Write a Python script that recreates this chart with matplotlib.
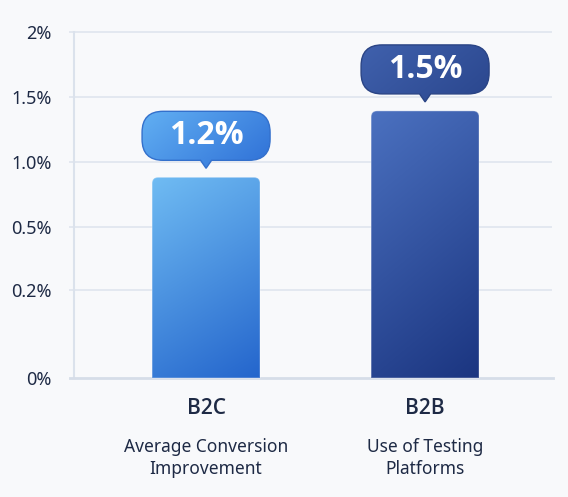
import numpy as np
import matplotlib
matplotlib.use("Agg")
import matplotlib.pyplot as plt
from matplotlib.path import Path
from matplotlib.patches import PathPatch
from matplotlib.colors import to_rgb

# ---------------- data ----------------
categories = ["B2C", "B2B"]
descriptions = ["Average Conversion\nImprovement", "Use of Testing\nPlatforms"]
bar_heights = [0.88, 1.39]          # bar tops as read on the (uneven) axis
value_labels = ["1.2%", "1.5%"]
tick_values = [0, 0.2, 0.5, 1.0, 1.5, 2.0]
tick_labels = ["0%", "0.2%", "0.5%", "1.0%", "1.5%", "2%"]
tick_spacing = [0, 1.354, 2.323, 3.323, 4.323, 5.315]   # uneven tick spacing of the axis

# ---------------- style ----------------
plt.rcParams['font.family'] = ['Noto Sans', 'DejaVu Sans']
BOLD_FAMILY = ['Open Sans', 'Noto Sans', 'DejaVu Sans']
BG = "#f8f9fb"
TEXT = "#1e2a45"
GRID = "#e3e8f0"
bar_colors = [("#70bcf3", "#2465cc"), ("#4b71c0", "#1b3580")]
bubble_colors = [("#62b0f3", "#2e6fd6"), ("#4061ad", "#2a468d")]
bubble_edges = ["#3370cc", "#2a4485"]

W, H = 568, 497
fig = plt.figure(figsize=(W / 100, H / 100), dpi=100, facecolor=BG)
ax = fig.add_axes([74 / W, 1 - 378 / H, (553 - 74) / W, (378 - 32) / H])
ax.set_facecolor(BG)


def fwd(v):
    return np.interp(v, tick_values, tick_spacing)


def inv(v):
    return np.interp(v, tick_spacing, tick_values)


ax.set_yscale('function', functions=(fwd, inv))
x = np.arange(len(categories))
bw = 0.493
bars = ax.bar(x, bar_heights, width=bw, color='none', zorder=1)
ax.set_xlim(-0.603, 1.584)
ax.set_ylim(0, 2.0)
ax.set_yticks(tick_values)
ax.set_yticklabels(tick_labels)
ax.tick_params(axis='y', length=0, pad=16, labelsize=13, labelcolor=TEXT)
ax.set_xticks([])
for s in ['top', 'right', 'bottom']:
    ax.spines[s].set_visible(False)
ax.spines['left'].set_color("#dbe2ec")
ax.spines['left'].set_linewidth(1.5)
for tv in tick_values[1:]:
    ax.plot([-0.623, 1.575], [tv, tv], color=GRID, lw=1.4, zorder=0, clip_on=False)
ax.plot([-0.623, 1.584], [0, 0], color="#d6dde8", lw=2.0, zorder=3, clip_on=False)

# overlay in pixel coordinates
ov = fig.add_axes([0, 0, 1, 1], facecolor='none')
ov.set_xlim(0, W)
ov.set_ylim(0, H)
ov.axis('off')


def rounded_path(x0, y0, x1, y1, r_top, r_bot, pointer=None):
    verts, codes = [], []
    verts.append((x0 + r_bot, y0)); codes.append(Path.MOVETO)
    if pointer is not None:
        cx, pw, ph = pointer
        verts += [(cx - pw / 2, y0), (cx, y0 - ph), (cx + pw / 2, y0)]
        codes += [Path.LINETO] * 3
    verts.append((x1 - r_bot, y0)); codes.append(Path.LINETO)
    if r_bot > 0:
        verts += [(x1, y0), (x1, y0 + r_bot)]; codes += [Path.CURVE3] * 2
    verts.append((x1, y1 - r_top)); codes.append(Path.LINETO)
    verts += [(x1, y1), (x1 - r_top, y1)]; codes += [Path.CURVE3] * 2
    verts.append((x0 + r_top, y1)); codes.append(Path.LINETO)
    verts += [(x0, y1), (x0, y1 - r_top)]; codes += [Path.CURVE3] * 2
    verts.append((x0, y0 + r_bot)); codes.append(Path.LINETO)
    if r_bot > 0:
        verts += [(x0, y0), (x0 + r_bot, y0)]; codes += [Path.CURVE3] * 2
    verts.append((x0 + r_bot, y0)); codes.append(Path.CLOSEPOLY)
    return Path(verts, codes)


def gradient(c_light, c_dark, wv=0.7, wh=0.3, n=200):
    a = np.array(to_rgb(c_light)); b = np.array(to_rgb(c_dark))
    yy, xx = np.mgrid[0:n, 0:n] / (n - 1)   # yy=0 bottom row (origin lower)
    t = wv * (1 - yy) + wh * xx
    t = (t - t.min()) / (t.max() - t.min())
    return a[None, None, :] * (1 - t[..., None]) + b[None, None, :] * t[..., None]


for i, rect in enumerate(bars):
    px0, py0 = ax.transData.transform((rect.get_x(), 0))
    px1, py1 = ax.transData.transform((rect.get_x() + rect.get_width(), rect.get_height()))
    bpath = rounded_path(px0, py0, px1, py1, 6, 0)
    im = ov.imshow(gradient(*bar_colors[i], wv=0.75, wh=0.25), extent=(px0, px1, py0, py1),
                   origin='lower', aspect='auto', interpolation='bilinear', zorder=2)
    im.set_clip_path(PathPatch(bpath, transform=ov.transData))
    ov.add_patch(PathPatch(bpath, facecolor='none', edgecolor=(1, 1, 1, 0.25), lw=1.0, zorder=3))

    # bubble
    cx = (px0 + px1) / 2
    bb0 = py1 + 17
    bb1 = bb0 + 49
    hw = 64
    pth = rounded_path(cx - hw, bb0, cx + hw, bb1, 21, 21, pointer=(cx, 11, 8))
    im2 = ov.imshow(gradient(*bubble_colors[i], wv=0.35, wh=0.65),
                    extent=(cx - hw, cx + hw, bb0 - 8, bb1),
                    origin='lower', aspect='auto', interpolation='bilinear', zorder=4)
    im2.set_clip_path(PathPatch(pth, transform=ov.transData))
    ov.add_patch(PathPatch(pth, facecolor='none', edgecolor=bubble_edges[i], lw=1.0, zorder=5))
    ov.text(cx, (bb0 + bb1) / 2, value_labels[i], ha='center', va='center',
            color='white', fontsize=23, fontweight='bold', family=BOLD_FAMILY, zorder=6)

    ov.text(cx, H - 408, categories[i], ha='center', va='center', color=TEXT,
            fontsize=15, fontweight='semibold', family=BOLD_FAMILY)
    ov.text(cx, H - 458, descriptions[i], ha='center', va='center', color=TEXT,
            fontsize=12.5, linespacing=1.35)

ov.set_xlim(0, W)
ov.set_ylim(0, H)
fig.savefig("out.png", dpi=100, facecolor=BG)
